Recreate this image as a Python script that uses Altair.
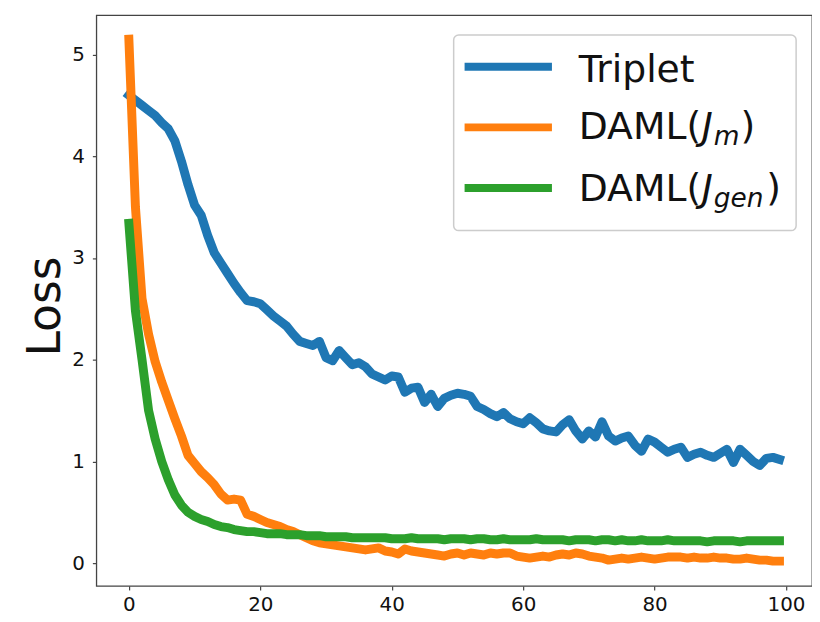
import altair as alt
import pandas as pd

# ---------------- data ----------------
epochs = list(range(100))

triplet = [4.60, 4.55, 4.50, 4.45, 4.40, 4.33, 4.27, 4.15, 3.95, 3.72,
           3.52, 3.42, 3.22, 3.05, 2.95, 2.85, 2.75, 2.66, 2.58, 2.57,
           2.55, 2.49, 2.43, 2.38, 2.33, 2.25, 2.18, 2.16, 2.14, 2.18,
           2.02, 1.99, 2.09, 2.02, 1.95, 1.97, 1.93, 1.86, 1.83, 1.80,
           1.84, 1.83, 1.68, 1.72, 1.73, 1.58, 1.66, 1.54, 1.62, 1.65,
           1.67, 1.66, 1.64, 1.54, 1.51, 1.47, 1.44, 1.48, 1.42, 1.39,
           1.37, 1.43, 1.38, 1.32, 1.30, 1.29, 1.36, 1.41, 1.30, 1.22,
           1.30, 1.24, 1.39, 1.25, 1.20, 1.23, 1.25, 1.16, 1.10, 1.22,
           1.19, 1.14, 1.09, 1.12, 1.14, 1.04, 1.07, 1.09, 1.06, 1.04,
           1.08, 1.12, 0.99, 1.12, 1.06, 1.00, 0.96, 1.03, 1.04, 1.02]

daml_m = [5.15, 3.50, 2.60, 2.25, 1.98, 1.78, 1.60, 1.42, 1.25, 1.06,
          0.98, 0.90, 0.84, 0.77, 0.68, 0.62, 0.63, 0.62, 0.48, 0.46,
          0.43, 0.40, 0.38, 0.36, 0.33, 0.31, 0.28, 0.25, 0.22, 0.20,
          0.19, 0.18, 0.17, 0.16, 0.15, 0.14, 0.13, 0.14, 0.15, 0.12,
          0.11, 0.09, 0.14, 0.12, 0.11, 0.10, 0.09, 0.08, 0.07, 0.09,
          0.10, 0.08, 0.10, 0.09, 0.08, 0.10, 0.09, 0.10, 0.10, 0.07,
          0.06, 0.05, 0.06, 0.07, 0.06, 0.08, 0.09, 0.08, 0.10, 0.09,
          0.07, 0.06, 0.05, 0.03, 0.04, 0.05, 0.04, 0.05, 0.06, 0.05,
          0.04, 0.05, 0.06, 0.06, 0.06, 0.05, 0.06, 0.05, 0.05, 0.06,
          0.05, 0.05, 0.04, 0.04, 0.05, 0.04, 0.03, 0.03, 0.02, 0.02]

daml_gen = [3.34, 2.48, 2.00, 1.50, 1.22, 1.00, 0.82, 0.67, 0.57, 0.50,
            0.46, 0.43, 0.41, 0.38, 0.36, 0.35, 0.33, 0.32, 0.31, 0.31,
            0.30, 0.29, 0.29, 0.29, 0.28, 0.28, 0.28, 0.27, 0.27, 0.27,
            0.26, 0.26, 0.26, 0.26, 0.25, 0.25, 0.25, 0.25, 0.25, 0.25,
            0.24, 0.24, 0.24, 0.25, 0.24, 0.24, 0.24, 0.24, 0.23, 0.24,
            0.24, 0.24, 0.23, 0.24, 0.24, 0.23, 0.23, 0.24, 0.23, 0.23,
            0.23, 0.23, 0.24, 0.23, 0.23, 0.23, 0.23, 0.22, 0.23, 0.23,
            0.23, 0.22, 0.23, 0.23, 0.22, 0.23, 0.22, 0.22, 0.23, 0.22,
            0.22, 0.22, 0.23, 0.22, 0.22, 0.22, 0.22, 0.22, 0.21, 0.22,
            0.22, 0.22, 0.22, 0.21, 0.22, 0.22, 0.22, 0.22, 0.22, 0.22]

series_names = ["Triplet", "DAML(J_m)", "DAML(J_gen)"]
series_colors = ["#1f77b4", "#ff7f0e", "#2ca02c"]
x_ticks = [0, 20, 40, 60, 80, 100]
y_ticks = [0, 1, 2, 3, 4, 5]
y_title = "Loss"

# ---------------- build table ----------------
rows = []
for name, vals in zip(series_names, [triplet, daml_m, daml_gen]):
    for e, v in zip(epochs, vals):
        rows.append({"epoch": e, "loss": v, "series": name})
df = pd.DataFrame(rows)

FONT = "DejaVu Sans"
INK = "#111111"
FRAME = "#444444"

x_enc = alt.X("epoch:Q",
              scale=alt.Scale(domain=[-4.95, 103.95], nice=False, zero=False),
              axis=alt.Axis(values=x_ticks, title=None, grid=False, domain=False,
                            tickSize=4, tickColor=FRAME, tickWidth=1.2,
                            labelFontSize=20, labelFont=FONT, labelColor=INK,
                            labelPadding=5, labelFlush=False))
y_enc = alt.Y("loss:Q",
              scale=alt.Scale(domain=[-0.224, 5.386], nice=False, zero=False),
              axis=alt.Axis(values=y_ticks, title=y_title, grid=False, domain=False,
                            tickSize=4, tickColor=FRAME, tickWidth=1.2,
                            labelFontSize=20, labelFont=FONT, labelColor=INK,
                            labelPadding=8, labelFlush=False,
                            titleFont=FONT, titleFontSize=46, titleFontWeight="normal",
                            titleColor=INK, titleAngle=270, titleX=-37, titleY=293,
                            titleAlign="center", titleBaseline="alphabetic"))

layers = []
for name, col in zip(series_names, series_colors):
    layers.append(
        alt.Chart(df).transform_filter(alt.datum.series == name)
        .mark_line(color=col, strokeWidth=9, strokeCap="square", strokeJoin="round")
        .encode(x=x_enc, y=y_enc, order="epoch:Q")
    )

# ---------------- legend (drawn by hand to allow math subscripts) ----------------
one = pd.DataFrame({"k": [0]})
legend_box = alt.Chart(one).mark_rect(
    fill="white", fillOpacity=0.8, stroke="#cccccc", strokeWidth=1.5, cornerRadius=5
).encode(x=alt.value(360), x2=alt.value(705), y=alt.value(20), y2=alt.value(217))
layers.append(legend_box)

sw_y = [52, 113, 174]
for col, yy in zip(series_colors, sw_y):
    layers.append(alt.Chart(one).mark_rule(color=col, strokeWidth=8)
                  .encode(x=alt.value(371), x2=alt.value(459), y=alt.value(yy)))


def txt(s, x, y, size=38, style="normal"):
    return alt.Chart(one).mark_text(
        align="left", baseline="alphabetic", font=FONT, fontSize=size,
        fontStyle=style, color=INK
    ).encode(x=alt.value(x), y=alt.value(y), text=alt.value(s))


layers.append(txt("Triplet", 486, 67))
# DAML(J_m)
layers.append(txt("DAML(", 486, 125))
layers.append(txt("J", 610, 125, style="italic"))
layers.append(txt("m", 622, 131, size=26.6, style="italic"))
layers.append(txt(")", 649, 125))
# DAML(J_gen)
layers.append(txt("DAML(", 486, 187))
layers.append(txt("J", 610, 187, style="italic"))
layers.append(txt("gen", 622, 193, size=26.6, style="italic"))
layers.append(txt(")", 675, 187))

chart = alt.layer(*layers).properties(
    width=721, height=575,
    autosize=alt.AutoSizeParams(type="none"),
    padding={"left": 89, "top": 5, "right": 0, "bottom": 30},
    background="white",
).configure_view(stroke=FRAME, strokeWidth=1.3)

chart.save("out.html", embed_options={"renderer": "svg", "actions": False})
